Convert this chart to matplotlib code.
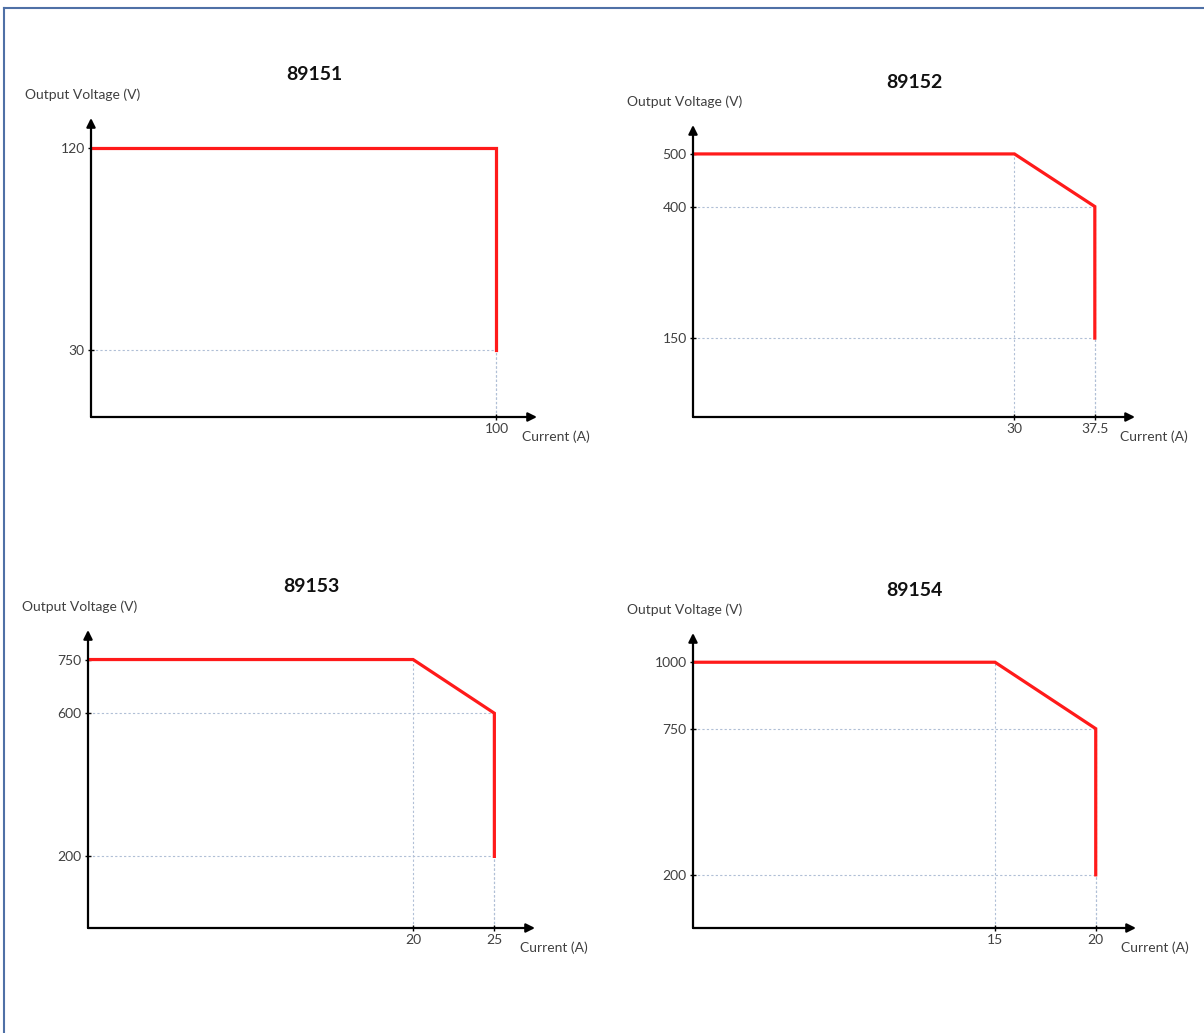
import matplotlib
matplotlib.use('Agg')
import matplotlib.pyplot as plt
from matplotlib.lines import Line2D

plt.rcParams['font.family'] = ['Lato', 'DejaVu Sans']

# --- data: output envelope of each model ---
models = ['89151', '89152', '89153', '89154']
currents = [
    [0, 100, 100],
    [0, 30, 37.5, 37.5],
    [0, 20, 25, 25],
    [0, 15, 20, 20],
]
voltages = [
    [120, 120, 30],
    [500, 500, 400, 150],
    [750, 750, 600, 200],
    [1000, 1000, 750, 200],
]
x_ticklabels = [['100'], ['30', '37.5'], ['20', '25'], ['15', '20']]
y_ticklabels = [['30', '120'], ['150', '400', '500'], ['200', '600', '750'], ['200', '750', '1000']]

W, H = 1204, 1033
fig = plt.figure(figsize=(W / 100, H / 100), dpi=100)

# axes origin (pixels) and size up to the arrow tips
origins = [(91, 417), (693, 417), (88, 928), (693, 928)]
sizes = [(446, 299), (442, 292), (447, 298), (443, 295)]

red = '#ff1a1a'
guide = '#b0bfd6'
txt = '#404040'

for i, name in enumerate(models):
    ox, oy = origins[i]
    aw, ah = sizes[i]
    ax = fig.add_axes([ox / W, (H - oy) / H, aw / W, ah / H])
    xs, ys = currents[i], voltages[i]
    ax.set_xlim(0, max(xs) * 1.1)
    ax.set_ylim(0, max(ys) * 1.11)
    for s in ax.spines.values():
        s.set_visible(False)
    ax.patch.set_alpha(0)

    # dashed guides to each corner of the envelope
    for x, y in zip(xs[1:], ys[1:]):
        ax.vlines(x, 0, y, colors=guide, linestyles=(0, (2, 2)), lw=0.8, zorder=1)
        if y != max(ys):
            ax.hlines(y, 0, x, colors=guide, linestyles=(0, (2, 2)), lw=0.8, zorder=1)

    ax.plot(xs, ys, color=red, lw=2.3, zorder=3, solid_joinstyle='miter')

    # arrow axes
    arr = dict(arrowstyle='-|>', color='black', lw=1.6, mutation_scale=13, shrinkA=0, shrinkB=0)
    ax.annotate('', xy=(1, 0), xytext=(0, 0), xycoords='axes fraction', arrowprops=arr)
    ax.annotate('', xy=(0, 1), xytext=(0, 0), xycoords='axes fraction', arrowprops=arr)

    ax.set_xticks(sorted(set(xs[1:])))
    ax.set_xticklabels(x_ticklabels[i])
    ax.set_yticks(sorted(set(ys)))
    ax.set_yticklabels(y_ticklabels[i])
    ax.tick_params(direction='inout', length=5, width=1, colors='black',
                   labelcolor=txt, labelsize=10, pad=2)

    ax.set_title(name, fontsize=14, fontweight='bold', pad=27, color='#111111')
    ax.annotate('Output Voltage (V)', xy=(0, 1), xycoords='axes fraction',
                xytext=(-66, 23), textcoords='offset pixels', ha='left', va='center',
                fontsize=10, color=txt)
    ax.annotate('Current (A)', xy=(1, 0), xycoords='axes fraction',
                xytext=(-15, -20), textcoords='offset pixels', ha='left', va='center',
                fontsize=10, color=txt)

# frame lines on the top and left edges
border = '#4f70a6'
fig.add_artist(Line2D([4 / W, 1], [1 - 8 / H, 1 - 8 / H], color=border, lw=1.5))
fig.add_artist(Line2D([4 / W, 4 / W], [0, 1 - 8 / H], color=border, lw=1.5))

fig.savefig('out.png', dpi=100, facecolor='white')
